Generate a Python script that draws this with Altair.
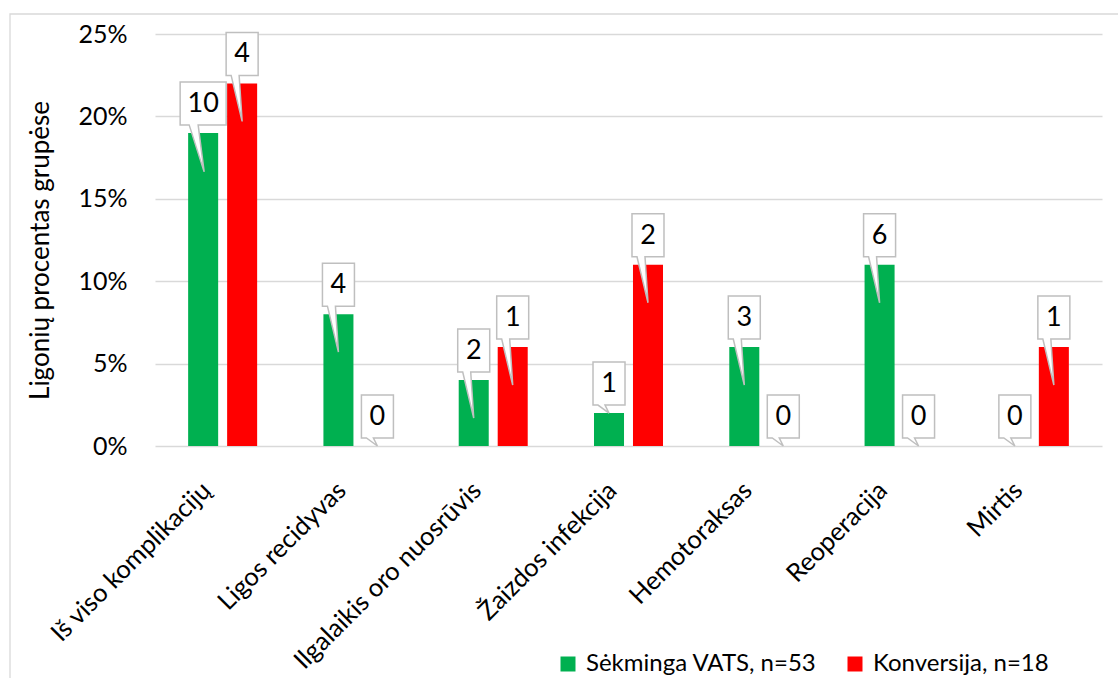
import altair as alt
import pandas as pd

# Complication categories and the two patient groups
categories = [
    "Iš viso komplikacijų",
    "Ligos recidyvas",
    "Ilgalaikis oro nuosrūvis",
    "Žaizdos infekcija",
    "Hemotoraksas",
    "Reoperacija",
    "Mirtis",
]
series = ["Sėkminga VATS, n=53", "Konversija, n=18"]

# Share of patients in each group (%)
vats_pct = [19, 8, 4, 2, 6, 11, 0]
conv_pct = [22, 0, 6, 11, 0, 0, 6]

# Patient counts shown in the callouts
vats_n = [10, 4, 2, 1, 3, 6, 0]
conv_n = [4, 0, 1, 2, 0, 0, 1]

colors = ["#00B050", "#FF0000"]
FONT = "Lato"

# Callout outlines (box + pointer), in pixel units around the bar top (size=4 -> scale 1)
callout_keys = ["one_deep", "two_deep", "one_flush", "two_flush"]
callout_paths = [
    "M-16,-51H16V-8H-3L0,38L-11,-8H-16Z",
    "M-23,-51H23V-8H-5L1,39L-14,-8H-23Z",
    "M-16,-51H16V-8H-4L0,0L-11,-8H-16Z",
    "M-23,-51H23V-8H-5L0,0L-14,-8H-23Z",
]

rows = []
for grp, pcts, counts in [(series[0], vats_pct, vats_n), (series[1], conv_pct, conv_n)]:
    for cat, p, n in zip(categories, pcts, counts):
        digits = "two" if n >= 10 else "one"
        depth = "deep" if p >= 4 else "flush"
        rows.append({
            "category": cat,
            "group": grp,
            "share": p / 100,
            "count": str(n),
            "callout": f"{digits}_{depth}",
        })
df = pd.DataFrame(rows)

x_enc = alt.X(
    "category:N",
    sort=categories,
    scale=alt.Scale(paddingInner=0, paddingOuter=0),
    axis=alt.Axis(
        title=None,
        labelAngle=-45,
        labelAlign="right",
        labelBaseline="middle",
        labelFont=FONT,
        labelFontSize=25.5,
        labelColor="black",
        labelPadding=40,
        labelOffset=-16,
        labelLimit=400,
        domain=False,
        ticks=False,
        grid=False,
    ),
)
xoff_enc = alt.XOffset(
    "group:N", sort=series, scale=alt.Scale(paddingInner=0.23, paddingOuter=0.85)
)
y_enc = alt.Y(
    "share:Q",
    scale=alt.Scale(domain=[0, 0.25], nice=False),
    axis=alt.Axis(
        format=".0%",
        values=[0, 0.05, 0.10, 0.15, 0.20, 0.25],
        labelFont=FONT,
        labelFontSize=25,
        labelColor="black",
        labelPadding=28,
        domain=False,
        ticks=False,
        gridColor="#d9d9d9",
        gridWidth=1.3,
        title="Ligonių procentas grupėse",
        titleFont=FONT,
        titleFontSize=26,
        titleFontWeight="normal",
        titleColor="black",
        titleX=-115,
        titleY=216,
        titleBaseline="middle",
    ),
)

base = alt.Chart(df)

bars = base.mark_bar().encode(
    x=x_enc,
    xOffset=xoff_enc,
    y=y_enc,
    color=alt.Color(
        "group:N",
        sort=series,
        scale=alt.Scale(domain=series, range=colors),
        legend=alt.Legend(
            orient="none",
            legendX=401,
            legendY=618,
            direction="horizontal",
            title=None,
            symbolType="square",
            symbolSize=225,
            symbolStrokeWidth=0,
            labelFont=FONT,
            labelFontSize=24,
            labelColor="black",
            labelOffset=6,
            labelLimit=500,
            columnPadding=26,
            padding=0,
        ),
    ),
)

callouts = base.mark_point(
    filled=True, fill="white", stroke="#bfbfbf", strokeWidth=1.5, size=4, opacity=1
).encode(
    x=x_enc,
    xOffset=xoff_enc,
    y=y_enc,
    shape=alt.Shape(
        "callout:N", scale=alt.Scale(domain=callout_keys, range=callout_paths), legend=None
    ),
)

labels = base.mark_text(
    dy=-29, font=FONT, fontSize=27, color="black", baseline="middle"
).encode(
    x=x_enc,
    xOffset=xoff_enc,
    y=y_enc,
    text="count:N",
)

# Thin frame around the chart area
frame = alt.Chart(pd.DataFrame({"f": [0]})).mark_rect(
    fillOpacity=0, stroke="#d9d9d9", strokeWidth=1.3
).encode(
    x=alt.value(-145), x2=alt.value(1100), y=alt.value(-20), y2=alt.value(800)
)

chart = (
    alt.layer(frame, bars, callouts, labels)
    .properties(
        width=947,
        height=412,
        autosize=alt.AutoSizeParams(type="none"),
        padding={"left": 155, "top": 34, "right": 16, "bottom": 232},
        background="white",
    )
    .configure_view(strokeWidth=0)
)

chart.save("out.html", embed_options={"renderer": "svg", "actions": False})
